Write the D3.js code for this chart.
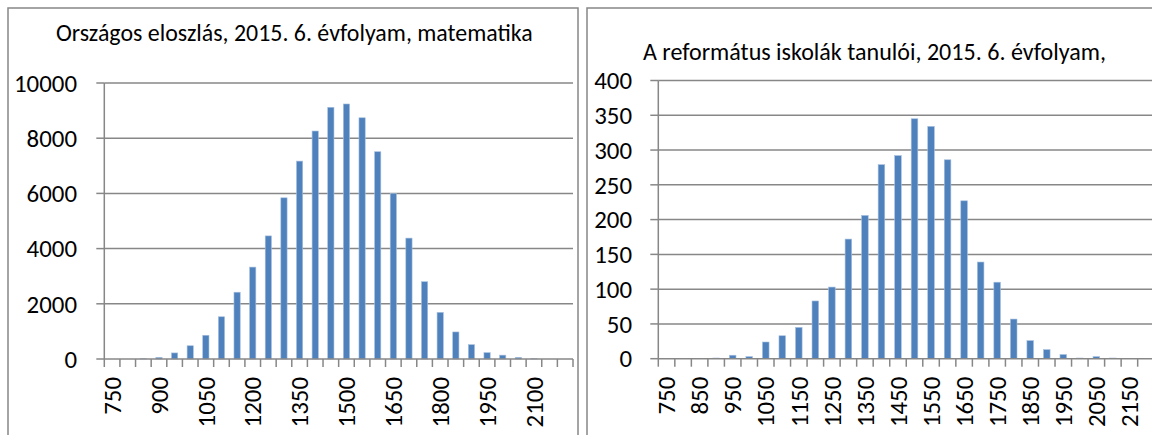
<!DOCTYPE html>
<html>
<head>
<meta charset="utf-8">
<script src="https://cdn.jsdelivr.net/npm/d3@7"></script>
<style>
  html, body { margin: 0; padding: 0; background: #fff; }
  svg { display: block; }
  text { font-family: Calibri, Carlito, Lato, "Open Sans", sans-serif; fill: #000; }
</style>
</head>
<body>
<svg id="chart" width="1152" height="435"></svg>
<script>
// ---------- data ----------
const categories = [750, 800, 850, 900, 950, 1000, 1050, 1100, 1150, 1200,
  1250, 1300, 1350, 1400, 1450, 1500, 1550, 1600, 1650, 1700,
  1750, 1800, 1850, 1900, 1950, 2000, 2050, 2100, 2150, 2200];

const nationalValues = [0, 0, 10, 60, 220, 480, 860, 1530, 2420, 3330,
  4460, 5840, 7170, 8260, 9120, 9240, 8740, 7510, 6000, 4380,
  2800, 1690, 980, 520, 230, 140, 60, 10, 0, 0];

const reformedValues = [0, 0, 0, 1, 5, 3, 24, 33, 45, 83,
  103, 172, 206, 279, 292, 345, 334, 286, 227, 139,
  110, 57, 26, 13, 6, 1, 3, 1, 0, 0];

const nationalXLabels = [750, 900, 1050, 1200, 1350, 1500, 1650, 1800, 1950, 2100];
const reformedXLabels = [750, 850, 950, 1050, 1150, 1250, 1350, 1450, 1550, 1650, 1750, 1850, 1950, 2050, 2150];
const nationalYTicks = [0, 2000, 4000, 6000, 8000, 10000];
const reformedYTicks = [0, 50, 100, 150, 200, 250, 300, 350, 400];

const nationalTitle = "Országos eloszlás, 2015. 6. évfolyam, matematika";
const reformedTitle = "A református iskolák tanulói, 2015. 6. évfolyam,";

// ---------- drawing ----------
const svg = d3.select("#chart");
const GRID = "#878787";
const BAR = "#4f81bd";

// fit a text element's font size so that its rendered width is the target width
function fitWidth(sel, target) {
  const node = sel.node();
  const fs = parseFloat(sel.attr("font-size"));
  const w = node.getComputedTextLength();
  if (w > 0) sel.attr("font-size", (fs * target / w).toFixed(2));
}
// font size for tick labels: "10000" should be ~63px wide
const probe = svg.append("text").attr("font-size", 20).text("10000");
fitWidth(probe, 63);
const TICK_FS = +probe.attr("font-size");
probe.remove();

function panel(cfg) {
  const g = svg.append("g");
  // frame
  g.append("rect").attr("x", cfg.frame[0]).attr("y", cfg.frame[1])
    .attr("width", cfg.frame[2]).attr("height", cfg.frame[3])
    .attr("fill", "none").attr("stroke", GRID).attr("stroke-width", 1.5);

  const x = d3.scaleBand().domain(categories).range([cfg.x0, cfg.x1]).paddingInner(0).paddingOuter(0);
  const y = d3.scaleLinear().domain([0, cfg.yMax]).range([cfg.y0, cfg.yTop]);

  // gridlines
  g.append("g").selectAll("line").data(cfg.yTicks.filter(d => d > 0)).join("line")
    .attr("x1", cfg.x0).attr("x2", cfg.gridEnd)
    .attr("y1", d => y(d)).attr("y2", d => y(d))
    .attr("stroke", GRID).attr("stroke-width", 1.5);

  // y axis line and ticks
  g.append("line").attr("x1", cfg.x0).attr("x2", cfg.x0)
    .attr("y1", y(cfg.yMax)).attr("y2", cfg.y0)
    .attr("stroke", GRID).attr("stroke-width", 1.5);
  g.append("g").selectAll("line").data(cfg.yTicks).join("line")
    .attr("x1", cfg.x0 - 8).attr("x2", cfg.x0)
    .attr("y1", d => y(d)).attr("y2", d => y(d))
    .attr("stroke", GRID).attr("stroke-width", 1.5);
  g.append("g").selectAll("text").data(cfg.yTicks).join("text")
    .attr("x", cfg.yLabelX).attr("y", d => y(d)).attr("dy", "0.35em")
    .attr("text-anchor", "end").attr("font-size", TICK_FS).text(d => d);

  // bars
  const bw = x.bandwidth() * 0.4;
  g.append("g").selectAll("rect").data(categories.map((c, i) => ({ c, v: cfg.values[i] }))).join("rect")
    .attr("x", d => x(d.c) + (x.bandwidth() - bw) / 2)
    .attr("width", bw)
    .attr("y", d => y(d.v))
    .attr("height", d => cfg.y0 - y(d.v))
    .attr("fill", BAR).attr("stroke", "#a7c0de").attr("stroke-width", 0.6);

  // x axis line and ticks
  g.append("line").attr("x1", cfg.x0).attr("x2", cfg.gridEnd)
    .attr("y1", cfg.y0).attr("y2", cfg.y0)
    .attr("stroke", GRID).attr("stroke-width", 1.5);
  const bounds = categories.map(c => x(c)).concat([x(categories[categories.length - 1]) + x.bandwidth()]);
  g.append("g").selectAll("line").data(bounds).join("line")
    .attr("x1", d => d).attr("x2", d => d)
    .attr("y1", cfg.y0).attr("y2", cfg.y0 + 8)
    .attr("stroke", GRID).attr("stroke-width", 1.5);
  g.append("g").selectAll("text").data(cfg.xLabels).join("text")
    .attr("transform", d => `translate(${x(d) + x.bandwidth() / 2},${cfg.y0 + 18}) rotate(-90)`)
    .attr("dy", "0.35em").attr("text-anchor", "end")
    .attr("font-size", TICK_FS).text(d => d);

  // title
  const t = g.append("text").attr("x", cfg.titleX).attr("y", cfg.titleY)
    .attr("font-size", 20).text(cfg.title);
  fitWidth(t, cfg.titleW);
}

panel({
  frame: [8, 8, 570, 460],
  x0: 104.3, x1: 573, gridEnd: 573, y0: 359, yTop: 83, yMax: 10000,
  yTicks: nationalYTicks, yLabelX: 77, values: nationalValues, xLabels: nationalXLabels,
  title: nationalTitle, titleX: 56, titleY: 41, titleW: 477
});

panel({
  frame: [587, 8, 600, 460],
  x0: 658.3, x1: 1154.2, gridEnd: 1152, y0: 358.7, yTop: 80.5, yMax: 400,
  yTicks: reformedYTicks, yLabelX: 632, values: reformedValues, xLabels: reformedXLabels,
  title: reformedTitle, titleX: 643, titleY: 60, titleW: 463
});
</script>
</body>
</html>
